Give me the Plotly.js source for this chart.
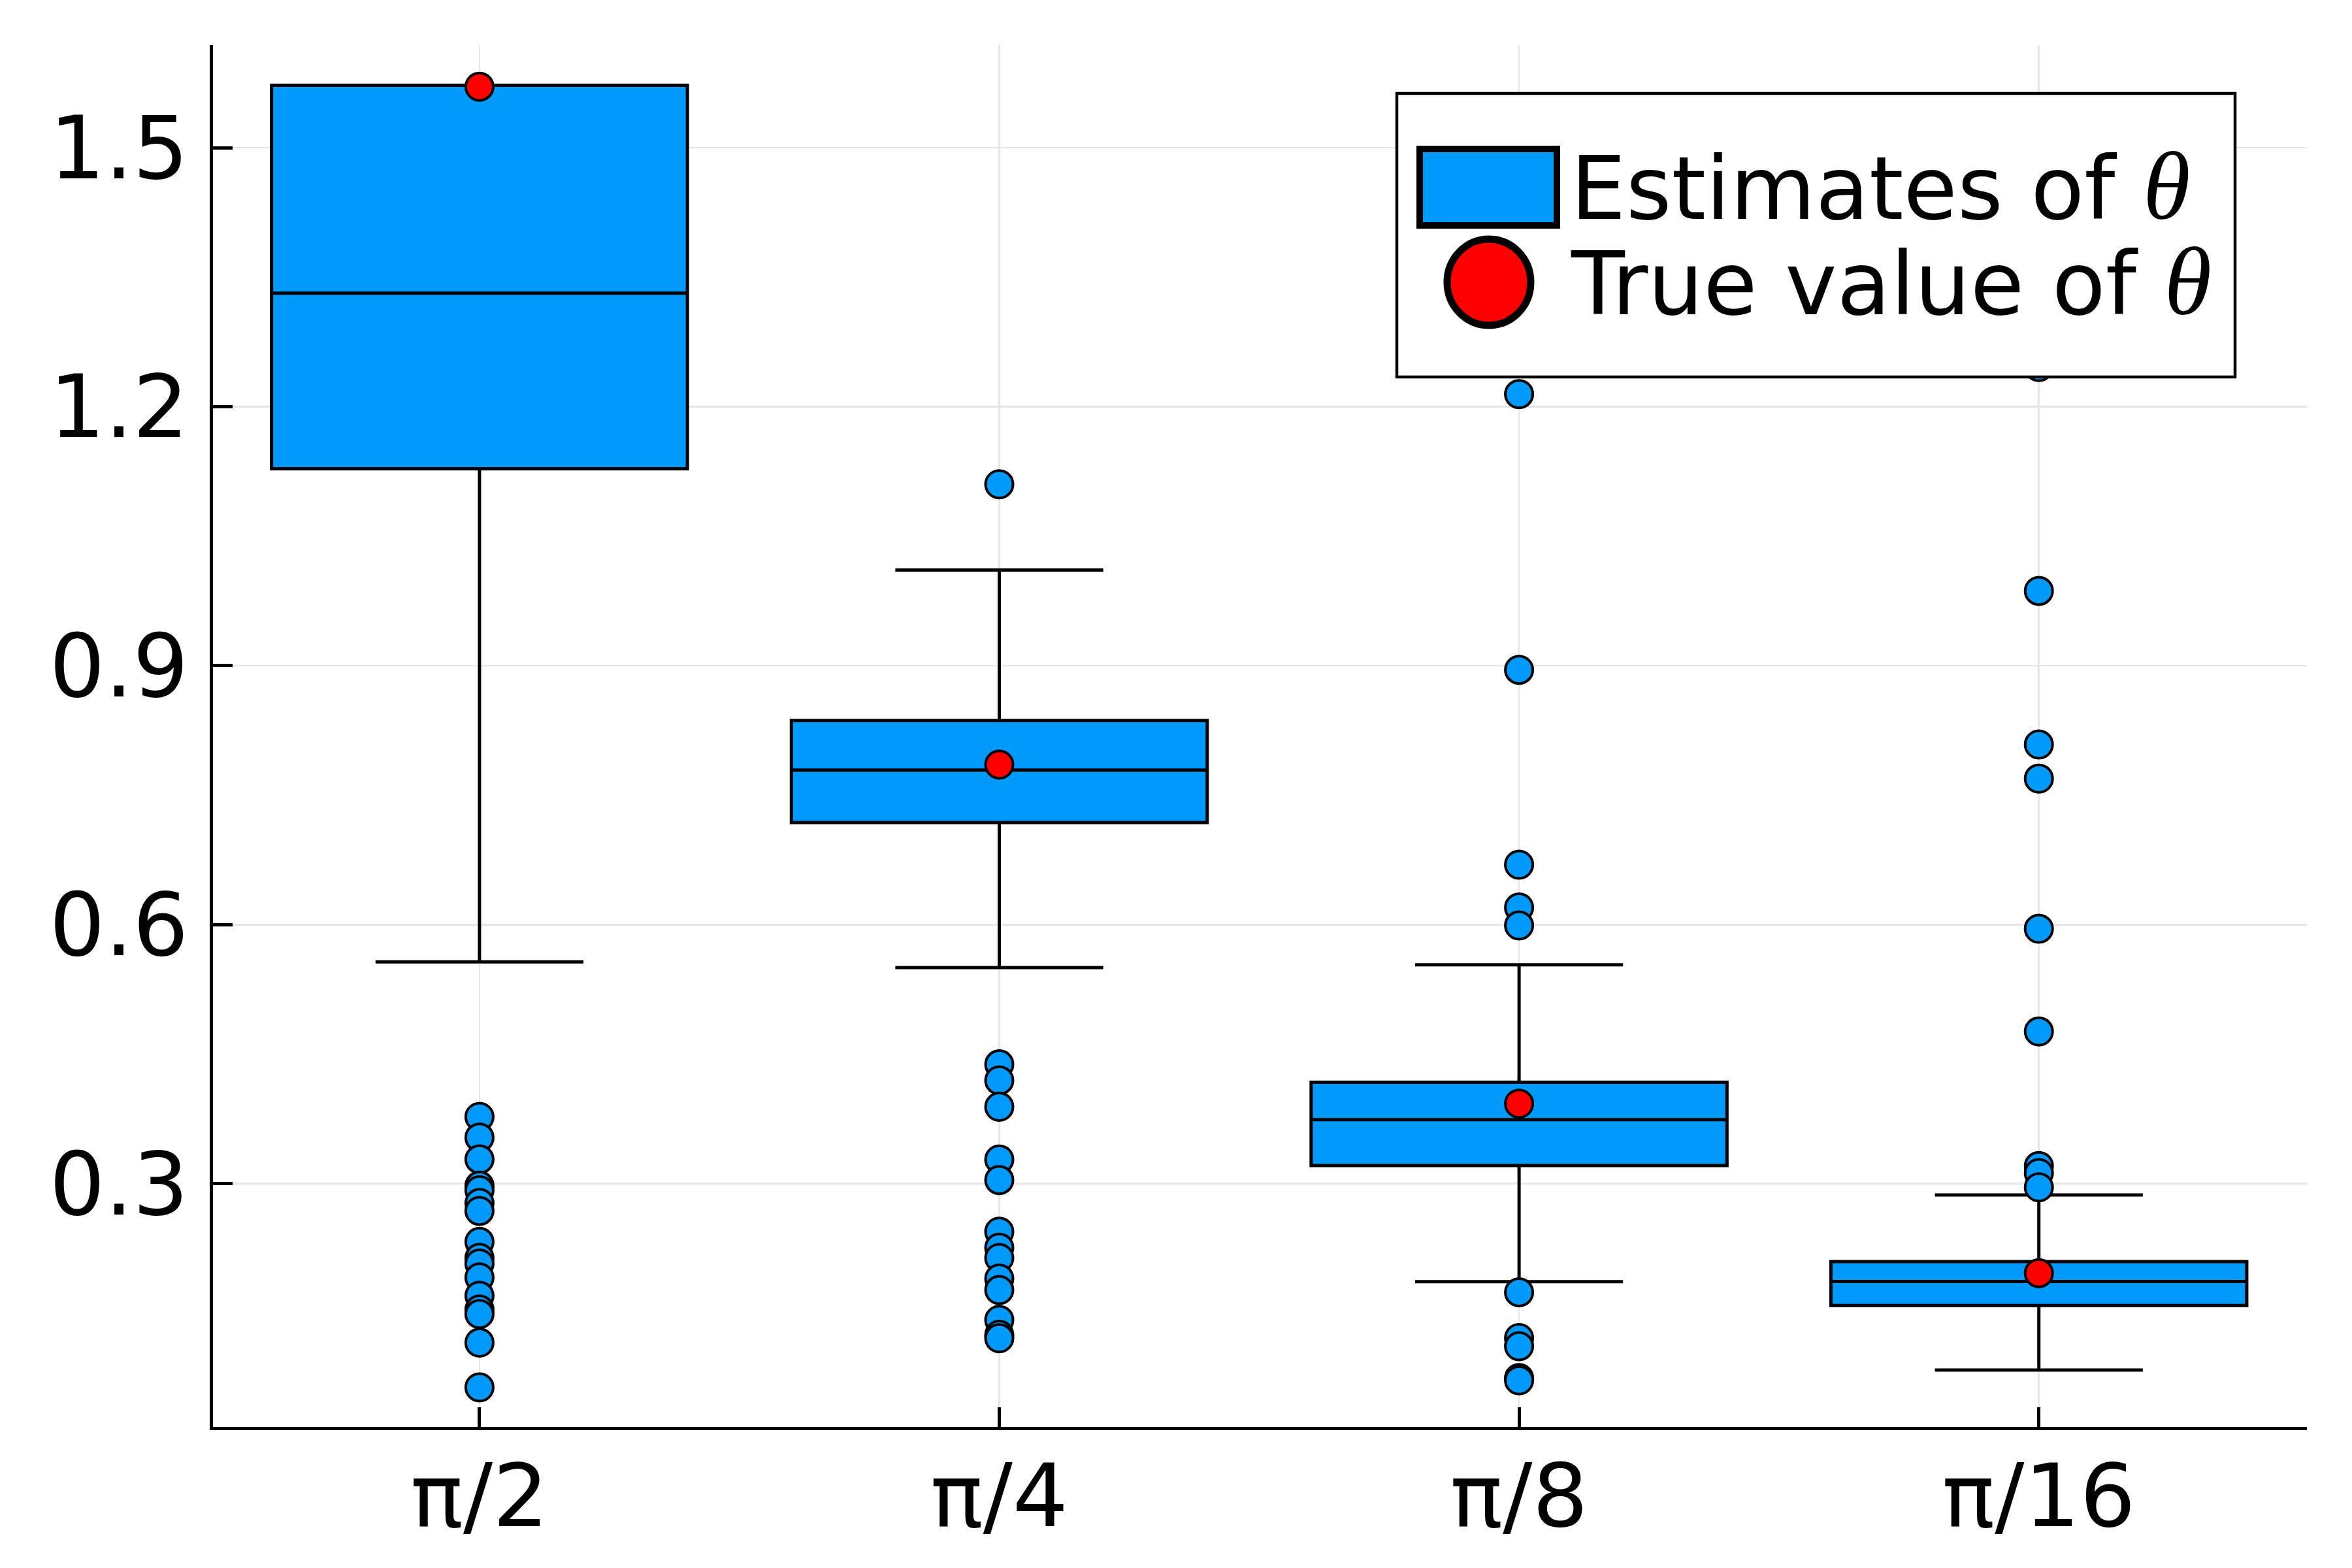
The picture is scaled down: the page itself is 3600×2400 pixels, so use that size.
<!DOCTYPE html>
<html>
<head>
<meta charset="utf-8">
<script src="https://cdn.plot.ly/plotly-3.0.1.min.js"></script>
<style>
  html, body { margin: 0; padding: 0; background: #ffffff; }
  #chart { width: 3600px; height: 2400px; }
</style>
</head>
<body>
<div id="chart"></div>
<script>
// ---- Data ----
const categories = ['π/2', 'π/4', 'π/8', 'π/16'];

const boxQ1          = [1.1281, 0.7184, 0.3210, 0.1588];
const boxMedian      = [1.3315, 0.7791, 0.3741, 0.1867];
const boxQ3          = [1.5724, 0.8365, 0.4175, 0.2096];
const boxLowerFence  = [0.5570, 0.5502, 0.1864, 0.0841];
const boxUpperFence  = [1.5724, 1.0109, 0.5535, 0.2868];

const outliersPi2  = [0.3773, 0.3534, 0.3282, 0.2976, 0.2923, 0.2777, 0.2684, 0.2326,
                      0.2140, 0.2074, 0.1914, 0.1702, 0.1542, 0.1489, 0.1158, 0.0640];
const outliersPi4  = [1.1102, 0.4382, 0.4196, 0.3891, 0.3280, 0.3042, 0.2444, 0.2258,
                      0.2139, 0.1900, 0.1767, 0.1422, 0.1249, 0.1209];
const outliersPi8  = [1.2146, 0.8953, 0.6695, 0.6200, 0.5991, 0.1742, 0.1212, 0.1116,
                      0.0748, 0.0721];
const outliersPi16 = [1.2460, 0.9867, 0.8087, 0.7692, 0.5953, 0.4763, 0.3204, 0.3123,
                      0.2958];

const trueValues = [1.5708, 0.7854, 0.3927, 0.1963];

const legendLabels = ['Estimates of', 'True value of'];
const yTickValues = [0.3, 0.6, 0.9, 1.2, 1.5];

// ---- Build traces ----
const positions = categories.map((c, i) => i);
const outlierGroups = [outliersPi2, outliersPi4, outliersPi8, outliersPi16];

const BLUE = '#009AFA';
const RED = '#FF0000';

const boxTrace = {
  type: 'box',
  x: positions,
  q1: boxQ1,
  median: boxMedian,
  q3: boxQ3,
  lowerfence: boxLowerFence,
  upperfence: boxUpperFence,
  boxpoints: false,
  width: 0.8,
  whiskerwidth: 0.5,
  fillcolor: BLUE,
  line: { color: '#000000', width: 5 },
  showlegend: false,
  hoverinfo: 'skip'
};

const outX = [], outY = [];
outlierGroups.forEach((vals, i) => {
  vals.forEach(v => { outX.push(positions[i]); outY.push(v); });
});

const outlierTrace = {
  type: 'scatter',
  mode: 'markers',
  x: outX,
  y: outY,
  marker: { color: BLUE, size: 42, line: { color: '#000000', width: 4 } },
  showlegend: false,
  hoverinfo: 'skip'
};

const trueTrace = {
  type: 'scatter',
  mode: 'markers',
  x: positions,
  y: trueValues,
  marker: { color: RED, size: 42, line: { color: '#000000', width: 4 } },
  showlegend: false,
  hoverinfo: 'skip'
};

// ---- Layout geometry (pixels) ----
const W = 3600, H = 2400;
const L = 326, R = 3531, T = 69, B = 2184;
const px = x => (x - L) / (R - L);
const py = y => (B - y) / (B - T);

const tickFont = { family: 'DejaVu Sans', size: 134, color: '#000000' };
const theta = ' <span style="font-family:\'Liberation Serif\';font-size:148px"><i>θ</i></span>';

const shapes = [
  // legend frame
  { type: 'rect', xref: 'paper', yref: 'paper', layer: 'above',
    x0: px(2138), x1: px(3421), y0: py(577), y1: py(143),
    fillcolor: '#FFFFFF', line: { color: '#000000', width: 4.5 } },
  // legend box symbol
  { type: 'rect', xref: 'paper', yref: 'paper', layer: 'above',
    x0: px(2173), x1: px(2383), y0: py(345), y1: py(228),
    fillcolor: BLUE, line: { color: '#000000', width: 10 } },
  // legend marker symbol
  { type: 'circle', xref: 'paper', yref: 'paper', layer: 'above',
    x0: px(2279 - 64), x1: px(2279 + 64), y0: py(432 + 66), y1: py(432 - 66),
    fillcolor: RED, line: { color: '#000000', width: 11 } }
];

const legendFont = { family: 'DejaVu Sans', size: 134, color: '#000000' };
const annotations = [
  { xref: 'paper', yref: 'paper', x: px(2402), y: py(285), xanchor: 'left', yanchor: 'middle',
    text: legendLabels[0] + theta, showarrow: false, font: legendFont, align: 'left' },
  { xref: 'paper', yref: 'paper', x: px(2402), y: py(431), xanchor: 'left', yanchor: 'middle',
    text: legendLabels[1] + theta, showarrow: false, font: legendFont, align: 'left' }
];

const layout = {
  width: W,
  height: H,
  margin: { l: L, r: W - R, t: T, b: H - B, pad: 0 },
  paper_bgcolor: '#FFFFFF',
  plot_bgcolor: '#FFFFFF',
  showlegend: false,
  xaxis: {
    range: [-0.5127, 3.5157],
    tickmode: 'array',
    tickvals: positions,
    ticktext: categories,
    showgrid: true,
    gridcolor: '#E6E6E6',
    gridwidth: 2.5,
    zeroline: false,
    showline: true,
    linecolor: '#000000',
    linewidth: 4.7,
    mirror: false,
    ticks: 'inside',
    ticklen: 30,
    tickwidth: 5,
    tickcolor: '#000000',
    tickfont: tickFont,
    ticklabelstandoff: -14
  },
  yaxis: {
    range: [0.0182, 1.619],
    tickmode: 'array',
    tickvals: yTickValues,
    ticktext: yTickValues.map(v => v.toFixed(1)),
    showgrid: true,
    gridcolor: '#E6E6E6',
    gridwidth: 2.5,
    zeroline: false,
    showline: true,
    linecolor: '#000000',
    linewidth: 4.7,
    mirror: false,
    ticks: 'inside',
    ticklen: 30,
    tickwidth: 5,
    tickcolor: '#000000',
    tickfont: tickFont,
    ticklabelstandoff: 6
  },
  shapes: shapes,
  annotations: annotations
};

Plotly.newPlot('chart', [boxTrace, outlierTrace, trueTrace], layout,
  { displayModeBar: false, staticPlot: true });
</script>
</body>
</html>
